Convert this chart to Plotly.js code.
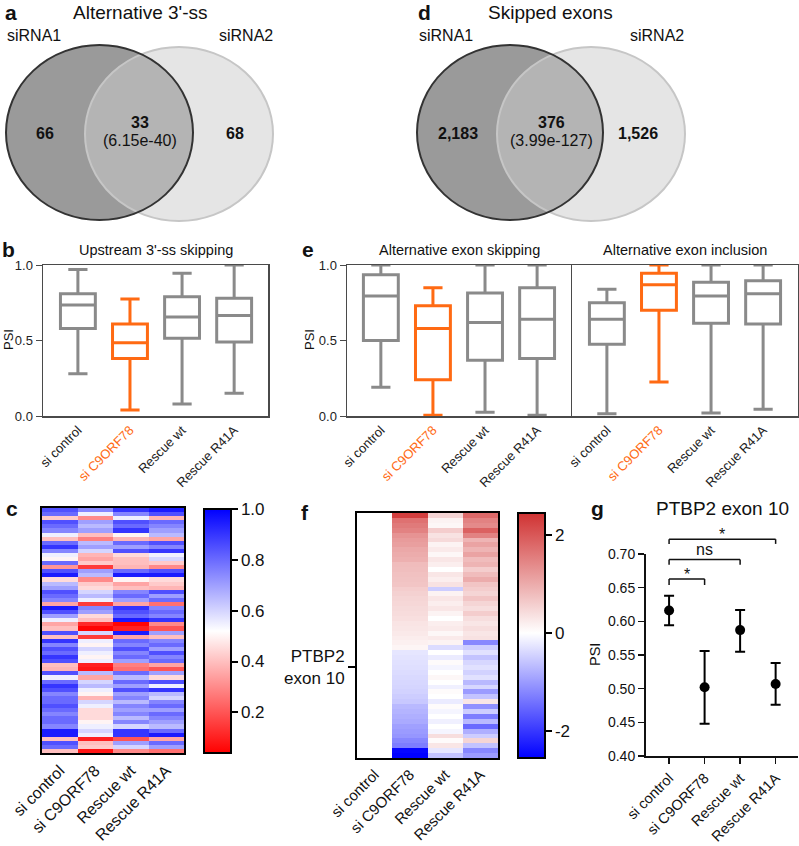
<!DOCTYPE html>
<html><head><meta charset="utf-8">
<script src="https://cdn.plot.ly/plotly-3.0.1.min.js"></script>
<style>html,body{margin:0;padding:0;background:#fff}#chart{width:799px;height:846px}</style>
</head><body><div id="chart"></div>
<script>
// ---------- DATA ----------
const cats = ['si control', 'si C9ORF78', 'Rescue wt', 'Rescue R41A'];

// Venn a (Alternative 3'-ss)
const vennA = {left: '66', both: '33', p: '(6.15e-40)', right: '68'};
// Venn d (Skipped exons)
const vennD = {left: '2,183', both: '376', p: '(3.99e-127)', right: '1,526'};

// b: Upstream 3'-ss skipping (box stats)
const bQ1  = [0.58, 0.38, 0.515, 0.49];
const bMed = [0.735, 0.485, 0.655, 0.665];
const bQ3  = [0.81, 0.61, 0.79, 0.78];
const bLo  = [0.28, 0.04, 0.08, 0.15];
const bHi  = [0.97, 0.775, 0.945, 1.0];

// e: Alternative exon skipping
const esQ1  = [0.50, 0.24, 0.37, 0.38];
const esMed = [0.795, 0.58, 0.62, 0.64];
const esQ3  = [0.935, 0.73, 0.815, 0.85];
const esLo  = [0.19, 0.005, 0.025, 0.005];
const esHi  = [1.0, 0.85, 1.0, 1.0];

// e: Alternative exon inclusion
const eiQ1  = [0.475, 0.70, 0.615, 0.61];
const eiMed = [0.64, 0.87, 0.795, 0.81];
const eiQ3  = [0.75, 0.945, 0.885, 0.895];
const eiLo  = [0.015, 0.225, 0.02, 0.045];
const eiHi  = [0.84, 1.0, 1.0, 1.0];

// c: heatmap PSI, one array per condition (rows top->bottom)
const cCtrl = [0.85,0.8,0.42,0.85,0.8,0.75,0.55,0.4,0.8,0.9,
               0.75,0.55,0.5,0.8,0.32,0.85,0.95,0.45,0.65,0.7,
               0.85,0.8,0.75,0.35,0.95,0.85,0.7,0.55,0.35,0.4,
               0.85,0.4,0.9,0.75,0.85,0.8,0.9,0.85,0.4,0.38,
               0.85,0.55,0.8,0.9,0.85,0.75,0.8,0.8,0.85,0.8,
               0.75,0.8,0.8,0.75,0.95,0.95,0.4,0.85,0.8,0.4];
const cSi   = [0.75,0.55,0.3,0.7,0.65,0.7,0.4,0.28,0.65,0.7,
               0.6,0.38,0.35,0.42,0.15,0.7,0.65,0.3,0.42,0.45,
               0.6,0.65,0.55,0.15,0.75,0.7,0.45,0.4,0.12,0.05,
               0.6,0.15,0.55,0.5,0.6,0.55,0.5,0.55,0.1,0.08,
               0.65,0.35,0.6,0.65,0.55,0.5,0.38,0.6,0.55,0.45,
               0.45,0.45,0.5,0.55,0.6,0.55,0.1,0.4,0.42,0.08];
const cWt   = [0.9,0.75,0.55,0.85,0.8,0.9,0.5,0.38,0.8,0.7,
               0.85,0.45,0.4,0.4,0.38,0.8,0.95,0.5,0.35,0.4,
               0.75,0.8,0.7,0.35,0.9,0.85,0.8,0.95,0.05,0.1,
               0.95,0.35,0.8,0.75,0.85,0.75,0.8,0.7,0.28,0.25,
               0.8,0.65,0.8,0.7,0.85,0.7,0.75,0.65,0.75,0.7,
               0.75,0.65,0.75,0.6,0.9,0.9,0.2,0.7,0.6,0.3];
const cR41A = [0.95,0.85,0.38,0.8,0.75,0.7,0.65,0.35,0.85,0.75,
               0.9,0.55,0.6,0.42,0.3,0.85,0.95,0.45,0.42,0.38,
               0.85,0.7,0.8,0.25,0.75,0.8,0.75,0.9,0.3,0.2,
               0.7,0.4,0.75,0.8,0.7,0.85,0.75,0.8,0.35,0.2,
               0.7,0.45,0.85,0.55,0.9,0.65,0.6,0.75,0.8,0.7,
               0.8,0.75,0.7,0.65,0.8,0.95,0.35,0.8,0.7,0.25];

// f: heatmap of change vs control, one array per condition
const fCtrl = [0,0,0,0,0,0,0,0,0,0, 0,0,0,0,0,0,0,0,0,0,
               0,0,0,0,0,0,0,0,0,0, 0,0,0,0,0,0,0,0,0,0,
               0,0,0,0,0,0,0,0,0,0];
const fSi   = [2.3,1.7,1.6,1.5,1.3,1.2,1.15,1.05,1.0,0.95,
               0.8,0.78,0.75,0.72,0.7,0.6,0.55,0.5,0.48,0.45,
               0.42,0.38,0.33,0.3,0.27,0.22,0.18,0.12,-0.25,-0.28,
               -0.3,-0.32,-0.35,-0.38,-0.4,-0.42,-0.45,-0.5,-0.55,-0.7,
               -0.75,-0.8,-0.85,-0.95,-1.0,-1.05,-1.2,-1.3,-2.5,-2.55];
const fWt   = [0.5,0.15,0.1,0.6,0.35,0.45,0.15,0.25,0.1,0.3,
               0.2,0.0,0.3,0.2,0.35,-0.5,0.15,0.3,0.2,0.3,
               0.15,0.0,0.2,0.25,0.1,0.25,0.15,-0.35,0.0,-0.2,
               0.05,-0.1,0.0,0.1,0.0,-0.15,0.05,0.0,-0.2,0.05,
               -0.1,0.0,-0.15,0.0,-0.1,0.4,0.05,0.3,-0.25,-0.6];
const fR41A = [1.8,1.5,1.4,1.9,1.5,0.9,1.1,0.9,1.1,0.8,
               0.9,0.6,0.8,1.0,0.7,0.6,0.5,0.7,0.5,0.4,
               0.6,0.4,0.3,0.4,0.3,0.35,-1.2,-0.5,-0.3,-0.6,
               -0.4,-0.3,-0.45,-0.3,-0.7,-0.4,-1.0,-0.6,0.3,-1.1,
               -0.5,-1.3,-0.7,-1.5,-0.8,-0.5,0.5,-0.6,-1.2,-1.0];
const fMarkRow = 31;
const fMarkLabel = 'PTBP2<br>exon 10';

// g: PTBP2 exon 10 PSI mean and error bar limits
const gMean  = [0.616, 0.502, 0.587, 0.507];
const gUpper = [0.638, 0.556, 0.617, 0.538];
const gLower = [0.594, 0.448, 0.555, 0.476];
const gBrackets = [
  {from: 0, to: 1, top: 0.663, arm: 0.654, label: '*'},
  {from: 0, to: 2, top: 0.692, arm: 0.684, label: 'ns'},
  {from: 0, to: 3, top: 0.722, arm: 0.715, label: '*'}
];

// ---------- LAYOUT HELPERS ----------
const W = 799, H = 846;
const fx = p => p / W;
const fy = p => 1 - p / H;
const FONT = 'Liberation Sans, Arial, sans-serif';
const GRAY = '#8a8a8a', ORANGE = '#ff6a13', FRAME = '#4a4a4a';
const boxColors = [GRAY, ORANGE, GRAY, GRAY];
const boxTickText = cats.map((c, i) => i === 1 ? `<span style="color:${ORANGE}">${c}</span>` : c);

function boxTraces(q1, med, q3, lo, hi, xa, ya) {
  return cats.map((c, i) => ({
    type: 'box', x: [c], q1: [q1[i]], median: [med[i]], q3: [q3[i]],
    lowerfence: [lo[i]], upperfence: [hi[i]], xaxis: xa, yaxis: ya,
    line: {color: boxColors[i], width: 3}, fillcolor: 'rgba(255,255,255,0)',
    width: 0.67, whiskerwidth: 0.55, boxpoints: false, showlegend: false, hoverinfo: 'skip'
  }));
}

const traces = [];
traces.push(...boxTraces(bQ1, bMed, bQ3, bLo, bHi, 'x', 'y'));
traces.push(...boxTraces(esQ1, esMed, esQ3, esLo, esHi, 'x2', 'y2'));
traces.push(...boxTraces(eiQ1, eiMed, eiQ3, eiLo, eiHi, 'x3', 'y3'));

// heatmap c
traces.push({
  type: 'heatmap', xaxis: 'x4', yaxis: 'y4', x: cats, y: cCtrl.map((_, i) => i),
  z: cCtrl.map((v, i) => [v, cSi[i], cWt[i], cR41A[i]]),
  zmin: 0.04, zmax: 1.0,
  colorscale: [[0, '#ff0000'], [0.5, '#ffffff'], [1, '#0000ff']],
  hoverinfo: 'skip',
  colorbar: {x: fx(204), xanchor: 'left', y: fy(509), yanchor: 'top', len: 244 / H, lenmode: 'fraction',
    thickness: 27, thicknessmode: 'pixels', outlinewidth: 2, outlinecolor: '#000', xpad: 0, ypad: 0,
    ticks: 'outside', ticklen: 6, tickwidth: 2, tickcolor: '#000',
    tickvals: [0.2, 0.4, 0.6, 0.8, 1.0], ticktext: ['0.2', '0.4', '0.6', '0.8', '1.0'],
    tickfont: {size: 17, color: '#111', family: FONT}}
});

// heatmap f
traces.push({
  type: 'heatmap', xaxis: 'x5', yaxis: 'y5', x: cats, y: fSi.map((_, i) => i),
  z: fSi.map((v, i) => [fCtrl[i], v, fWt[i], fR41A[i]]),
  zmin: -2.56, zmax: 2.46,
  colorscale: [[0, '#0000ff'], [0.51, '#ffffff'], [1, '#d03232']],
  hoverinfo: 'skip',
  colorbar: {x: fx(518), xanchor: 'left', y: fy(513), yanchor: 'top', len: 245 / H, lenmode: 'fraction',
    thickness: 27, thicknessmode: 'pixels', outlinewidth: 2, outlinecolor: '#000', xpad: 0, ypad: 0,
    ticks: 'outside', ticklen: 6, tickwidth: 2, tickcolor: '#000',
    tickvals: [-2, 0, 2], ticktext: ['-2', '0', '2'],
    tickfont: {size: 17, color: '#111', family: FONT}}
});

// g
traces.push({
  type: 'scatter', mode: 'markers', xaxis: 'x6', yaxis: 'y6',
  x: cats.map((_, i) => i), y: gMean,
  marker: {color: '#000', size: 10},
  error_y: {type: 'data', symmetric: false,
    array: gMean.map((m, i) => gUpper[i] - m), arrayminus: gMean.map((m, i) => m - gLower[i]),
    color: '#000', thickness: 2, width: 5},
  showlegend: false, hoverinfo: 'skip', cliponaxis: false
});

function boxX(l, r, anchor, range) {
  return {domain: [fx(l), fx(r)], anchor, type: 'category', range, showline: true, mirror: true,
    linecolor: FRAME, linewidth: 1.5, ticks: '', tickangle: -45, tickfont: {size: 13, color: '#222'},
    tickvals: cats, ticktext: boxTickText, showgrid: false, zeroline: false, fixedrange: true};
}
function boxY(anchor, showLabels, mirror) {
  return {domain: [fy(416), fy(265)], anchor, range: [0, 1], showline: true, mirror,
    linecolor: FRAME, linewidth: 1.5, ticks: showLabels ? 'outside' : '', ticklen: 6, tickcolor: FRAME,
    tickvals: [0, 0.5, 1], ticktext: ['0.0', '0.5', '1.0'], showticklabels: showLabels,
    tickfont: {size: 13, color: '#222'}, showgrid: false, zeroline: false, fixedrange: true};
}

const layout = {
  width: W, height: H, margin: {l: 0, r: 0, t: 0, b: 0},
  paper_bgcolor: '#fff', plot_bgcolor: 'rgba(0,0,0,0)',
  font: {family: FONT, color: '#111'}, showlegend: false, boxmode: 'overlay',
  xaxis: boxX(43, 268, 'y', [-0.67, 3.65]),
  yaxis: boxY('x', true, true),
  xaxis2: boxX(347, 572, 'y2', [-0.65, 3.67]),
  yaxis2: boxY('x2', true, false),
  xaxis3: boxX(572, 798, 'y3', [-0.67, 3.67]),
  yaxis3: boxY('x3', false, true),
  xaxis4: {domain: [fx(42), fx(184)], anchor: 'y4', showline: true, mirror: true, linecolor: '#000', linewidth: 2,
    ticks: '', tickangle: -45, tickfont: {size: 16, color: '#111'}, showgrid: false, zeroline: false},
  yaxis4: {domain: [fy(753), fy(508)], anchor: 'x4', range: [cCtrl.length - 0.5, -0.5], showline: true, mirror: true,
    linecolor: '#000', linewidth: 2, showticklabels: false, ticks: '', showgrid: false, zeroline: false},
  xaxis5: {domain: [fx(357), fx(498)], anchor: 'y5', showline: true, mirror: true, linecolor: '#000', linewidth: 2,
    ticks: '', tickangle: -45, tickfont: {size: 15, color: '#111'}, showgrid: false, zeroline: false},
  yaxis5: {domain: [fy(758), fy(513)], anchor: 'x5', range: [fSi.length - 0.5, -0.5], showline: true, mirror: true,
    linecolor: '#000', linewidth: 2, ticks: 'outside', ticklen: 7, tickwidth: 2, tickcolor: '#000',
    tickvals: [fMarkRow], ticktext: [fMarkLabel], tickfont: {size: 17, color: '#111'}, showgrid: false, zeroline: false},
  xaxis6: {domain: [fx(646), fx(798)], anchor: 'y6', range: [-0.65, 3.63], showline: true, linecolor: '#111', linewidth: 2,
    ticks: 'outside', ticklen: 6, tickwidth: 1.5, tickcolor: '#111', tickvals: cats.map((_, i) => i), ticktext: cats,
    tickangle: -45, tickfont: {size: 14.5, color: '#111'}, showgrid: false, zeroline: false},
  yaxis6: {domain: [fy(756), fy(554)], anchor: 'x6', range: [0.40, 0.70], showline: true, linecolor: '#111', linewidth: 2,
    ticks: 'outside', ticklen: 6, tickwidth: 1.5, tickcolor: '#111',
    tickvals: [0.40, 0.45, 0.50, 0.55, 0.60, 0.65, 0.70], tickformat: '.2f',
    tickfont: {size: 14, color: '#111'}, showgrid: false, zeroline: false},
  shapes: [], annotations: []
};

// Venn ellipses
function venn(c1, c2) {
  layout.shapes.push({type: 'circle', xref: 'paper', yref: 'paper', x0: fx(c1[0]), x1: fx(c1[1]), y0: fy(c1[3]), y1: fy(c1[2]),
    fillcolor: '#9a9a9a', line: {width: 0}});
  layout.shapes.push({type: 'circle', xref: 'paper', yref: 'paper', x0: fx(c2[0]), x1: fx(c2[1]), y0: fy(c2[3]), y1: fy(c2[2]),
    fillcolor: 'rgba(204,204,204,0.515)', line: {width: 0}});
  layout.shapes.push({type: 'circle', xref: 'paper', yref: 'paper', x0: fx(c2[0]), x1: fx(c2[1]), y0: fy(c2[3]), y1: fy(c2[2]),
    fillcolor: 'rgba(0,0,0,0)', line: {color: '#c6c6c6', width: 2}});
  layout.shapes.push({type: 'circle', xref: 'paper', yref: 'paper', x0: fx(c1[0]), x1: fx(c1[1]), y0: fy(c1[3]), y1: fy(c1[2]),
    fillcolor: 'rgba(0,0,0,0)', line: {color: '#333', width: 2}});
}
venn([6, 193, 45, 220], [85, 273, 47, 221]);
venn([417, 603, 45, 220], [497, 685, 47, 221]);

function ann(x, y, text, size, extra) {
  layout.annotations.push(Object.assign({xref: 'paper', yref: 'paper', x: fx(x), y: fy(y), text,
    showarrow: false, xanchor: 'center', yanchor: 'middle', font: {size, color: '#111', family: FONT}}, extra || {}));
}
// panel letters
[['a', 11, 12], ['d', 424, 12], ['b', 8, 250], ['e', 308, 250], ['c', 12, 508], ['f', 305, 512], ['g', 597, 508]]
  .forEach(([t, x, y]) => ann(x, y, '<b>' + t + '</b>', 21));
// Venn titles and labels
ann(140, 12, "Alternative 3'-ss", 19);
ann(550, 12, 'Skipped exons', 19);
ann(34, 36, 'siRNA1', 16); ann(246, 36, 'siRNA2', 16);
ann(446, 36, 'siRNA1', 16); ann(657, 36, 'siRNA2', 16);
ann(45, 133, '<b>' + vennA.left + '</b>', 16);
ann(140, 123, '<b>' + vennA.both + '</b>', 16);
ann(140, 141, vennA.p, 16);
ann(235, 133, '<b>' + vennA.right + '</b>', 16);
ann(458, 133, '<b>' + vennD.left + '</b>', 16);
ann(551, 123, '<b>' + vennD.both + '</b>', 16);
ann(551, 141, vennD.p, 16);
ann(638, 133, '<b>' + vennD.right + '</b>', 16);
// box plot titles
ann(156, 250, "Upstream 3'-ss skipping", 14.5);
ann(459, 250, 'Alternative exon skipping', 14.5);
ann(685, 250, 'Alternative exon inclusion', 14.5);
ann(722, 508, 'PTBP2 exon 10', 19);
// PSI labels
ann(8, 340, 'PSI', 13, {textangle: -90});
ann(309, 340, 'PSI', 13, {textangle: -90});
ann(595, 655, 'PSI', 14.5, {textangle: -90});

// significance brackets in g
const gSpan = 0.70 - 0.40;
const toDom = v => (v - 0.40) / gSpan;
gBrackets.forEach(b => {
  const common = {type: 'line', xref: 'x6', yref: 'y6 domain', line: {color: '#111', width: 1.5}};
  layout.shapes.push(Object.assign({}, common, {x0: b.from, x1: b.to, y0: toDom(b.top), y1: toDom(b.top)}));
  layout.shapes.push(Object.assign({}, common, {x0: b.from, x1: b.from, y0: toDom(b.arm), y1: toDom(b.top)}));
  layout.shapes.push(Object.assign({}, common, {x0: b.to, x1: b.to, y0: toDom(b.arm), y1: toDom(b.top)}));
  layout.annotations.push({xref: 'x6', yref: 'y6 domain', x: (b.from + b.to) / 2, y: toDom(b.top), text: b.label,
    showarrow: false, xanchor: 'center', yanchor: 'bottom', yshift: b.label === '*' ? -6 : -1,
    font: {size: 16, color: '#111', family: FONT}});
});

Plotly.newPlot('chart', traces, layout, {staticPlot: true});
</script></body></html>
